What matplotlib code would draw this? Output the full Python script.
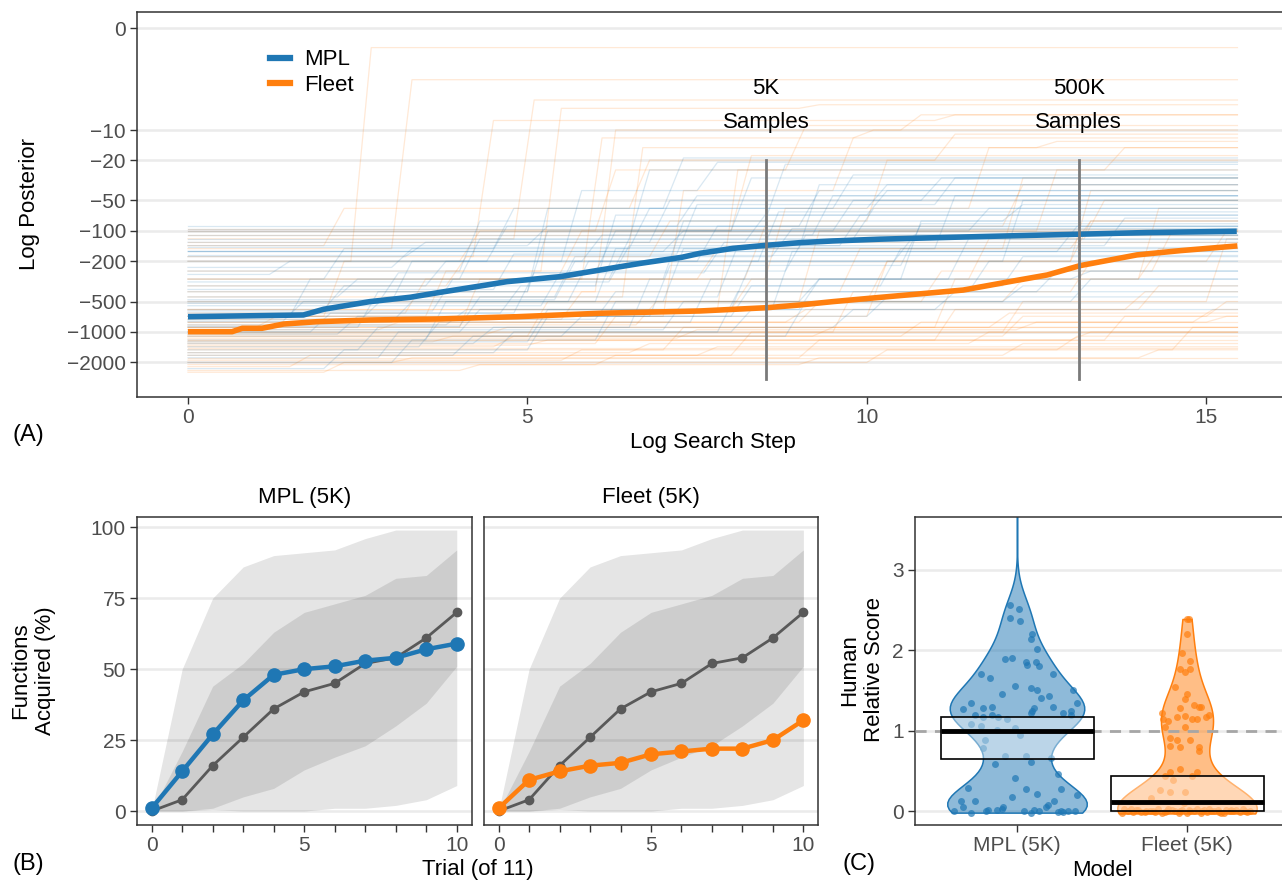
import numpy as np
import matplotlib.pyplot as plt
from matplotlib.colors import to_rgb
from matplotlib.lines import Line2D

plt.rcParams['font.family'] = ['Liberation Sans', 'DejaVu Sans']

BLUE = '#1f77b4'
ORANGE = '#ff7f0e'
TICK_COL = '#4d4d4d'
GRID_COL = '#ebebeb'

# ---------------- (A) search curves ----------------
mpl_x = [0, 1.70, 2.00, 2.68, 3.27, 3.77, 4.40, 4.70, 5.48, 6.07, 6.66, 7.27,
         7.54, 8.03, 8.52, 9.01, 9.50, 10.19, 11.67, 13.14, 14.13, 15.45]
mpl_mean = [-706, -679, -596, -501, -454, -400, -343, -318, -284, -244, -210, -183,
            -167, -149, -139, -131, -126, -121, -114, -108, -104, -101]
fleet_x = [0, 0.65, 0.80, 1.09, 1.41, 1.90, 2.68, 3.67, 4.85, 6.07, 7.54, 8.53,
           9.01, 9.50, 10.19, 11.42, 12.16, 12.66, 13.14, 13.98, 14.62, 15.46]
fleet_mean = [-993, -993, -919, -919, -834, -791, -761, -744, -706, -653, -620, -575,
              -541, -501, -455, -385, -313, -273, -221, -173, -157, -141]

# single runs: starting value, then (log step, new best value)
mpl_runs = [
    (-160, []), (-160, []), (-95, []), (-110, []),
    (-90, []), (-100, []), (-120, []), (-145, []), (-175, []),
    (-300, [(2.0, -150), (4.5, -60), (7.0, -19)]),
    (-500, [(3.0, -200), (5.5, -40), (7.5, -21)]),
    (-700, [(1.5, -300), (4.0, -120), (6.5, -25)]),
    (-900, [(2.5, -400), (5.0, -100), (8.0, -30)]),
    (-1200, [(3.5, -500), (6.0, -150), (9.0, -35)]),
    (-250, [(4.0, -80), (8.5, -22)]),
    (-400, [(5.0, -60), (9.5, -28)]),
    (-600, [(2.0, -350), (6.0, -70), (10.0, -40)]),
    (-800, [(3.0, -500), (7.0, -150), (11.0, -45)]),
    (-1000, [(4.0, -600), (8.0, -200), (12.0, -50)]),
    (-1500, [(2.5, -900), (6.5, -300), (10.5, -80)]),
    (-350, [(3.5, -200), (7.5, -90)]),
    (-450, [(2.2, -300), (6.2, -120), (9.8, -60)]),
    (-550, [(5.2, -250), (8.8, -110)]),
    (-650, [(4.6, -350), (10.2, -150)]),
    (-750, [(6.0, -400), (11.5, -200)]),
    (-850, [(3.8, -600), (9.0, -300), (13.0, -250)]),
    (-950, [(7.0, -500), (12.0, -350)]),
    (-1100, [(5.5, -700), (10.0, -450)]),
    (-1300, [(4.2, -900), (9.5, -600)]),
    (-200, [(5.8, -110), (9.2, -45)]),
    (-180, [(3.2, -130), (8.2, -70)]),
    (-1800, [(2.8, -1000), (7.8, -400), (12.5, -250)]),
    (-130, [(6.8, -50), (10.8, -30)]),
    (-270, [(1.2, -200), (4.4, -90), (7.2, -45)]),
    (-700, [(2.6, -450), (5.4, -180), (8.6, -95)]),
    (-1000, [(1.8, -650), (4.8, -260), (7.6, -130)]),
    (-2000, [(3.0, -1200), (6.0, -500), (9.0, -300)]),
    (-1600, [(4.5, -1000), (8.0, -600), (11.0, -400)]),
    (-140, [(5.0, -90), (9.0, -40)]),
    (-230, [(3.0, -150), (6.5, -60), (10.0, -35)]),
    (-380, [(4.5, -170), (7.2, -55), (11.0, -30)]),
    (-520, [(2.8, -260), (6.0, -100), (9.5, -50)]),
    (-620, [(3.6, -300), (7.0, -80), (12.0, -55)]),
    (-780, [(1.4, -500), (5.6, -200), (8.4, -65)]),
    (-880, [(4.0, -450), (7.8, -140), (13.5, -75)]),
    (-1050, [(2.2, -700), (6.8, -220), (10.5, -85)]),
    (-1250, [(5.0, -600), (8.6, -160), (12.8, -90)]),
    (-1400, [(3.4, -800), (7.4, -300), (11.2, -120)]),
    (-160, [(7.0, -100), (11.5, -60)]),
    (-320, [(6.2, -140), (9.6, -70)]),
    (-480, [(5.4, -200), (10.4, -110)]),
    (-2300, [(2.0, -1500), (5.0, -700), (8.0, -350), (12.0, -180)]),
    (-1700, [(3.9, -1100), (8.8, -500), (13.0, -300)]),
]
fleet_runs = [
    (-200, [(2.4, -0.9)]),
    (-150, [(3.0, -2.9)]),
    (-120, [(4.8, -4.9)]),
    (-100, []), (-110, []), (-1000, []), (-1200, []),
    (-1450, []), (-1800, []), (-800, []), (-900, []), (-130, []), (-95, []),
    (-250, [(5.2, -6), (9.0, -5.5)]),
    (-400, [(6.0, -10), (10.5, -7)]),
    (-700, [(7.0, -40), (9.5, -12)]),
    (-900, [(4.0, -300), (8.5, -60), (11.5, -15)]),
    (-1100, [(5.0, -500), (9.0, -100), (12.5, -25)]),
    (-1300, [(6.0, -700), (10.0, -200), (13.0, -40)]),
    (-1500, [(7.0, -900), (11.0, -300), (14.0, -60)]),
    (-1700, [(8.0, -1000), (12.0, -500), (15.0, -120)]),
    (-2000, [(3.0, -1800), (9.0, -1200), (13.5, -700)]),
    (-2500, [(2.0, -2000), (10.0, -1500), (14.5, -900)]),
    (-800, [(9.0, -500), (12.0, -300), (14.0, -150)]),
    (-600, [(8.0, -300), (11.5, -120), (13.2, -50)]),
    (-500, [(10.0, -200), (13.0, -80)]),
    (-300, [(7.5, -150), (12.0, -30)]),
    (-1400, [(4.5, -1100), (10.5, -800), (14.8, -600)]),
    (-1600, [(6.5, -1300), (11.5, -1000)]),
    (-1900, [(5.5, -1500), (12.8, -1100)]),
    (-2200, [(1.5, -1700), (7.5, -1400)]),
    (-900, [(1.0, -700), (3.5, -250), (5.5, -100), (8.0, -18)]),
    (-700, [(2.0, -200), (4.0, -100), (6.0, -25), (8.8, -9)]),
    (-1000, [(9.5, -400), (13.0, -200), (15.0, -100)]),
    (-1200, [(11.0, -600), (14.0, -350)]),
    (-350, [(3.8, -180), (6.8, -80), (10.0, -20)]),
    (-1100, [(12.0, -700), (15.0, -500)]),
    (-180, [(4.2, -8), (11.0, -7)]),
    (-300, [(5.8, -12), (9.8, -10)]),
    (-450, [(6.4, -15), (12.5, -13)]),
    (-600, [(7.8, -25), (13.5, -15)]),
    (-650, [(3.2, -300), (8.2, -90), (12.0, -35)]),
    (-750, [(5.5, -400), (9.6, -150), (13.0, -80)]),
    (-850, [(6.6, -500), (10.8, -250), (14.2, -100)]),
    (-950, [(2.8, -800), (8.8, -600), (13.8, -400)]),
    (-1050, [(4.4, -900), (11.8, -650)]),
    (-1150, [(7.2, -950), (12.2, -800), (15.0, -700)]),
    (-1250, [(3.6, -1100), (9.2, -900)]),
    (-1350, [(5.0, -1200), (13.0, -1000)]),
    (-2100, [(6.0, -1700), (12.0, -1300)]),
    (-2400, [(4.0, -2100), (9.0, -1800), (14.0, -1500)]),
    (-140, [(2.0, -60), (6.5, -20), (11.0, -11)]),
]
step_max = 15.46
mark_steps = [5000, 500000]
mark_labels = ['5K', '500K']
post_ticks = [0, -10, -20, -50, -100, -200, -500, -1000, -2000]

# ---------------- (B) functions acquired ----------------
trials = list(range(11))
human_acq = [0, 4, 16, 26, 36, 42, 45, 52, 54, 61, 70]
mpl_acq = [1, 14, 27, 39, 48, 50, 51, 53, 54, 57, 59]
fleet_acq = [1, 11, 14, 16, 17, 20, 21, 22, 22, 25, 32]
outer_lo = [0, 0, 0.5, 0, 0, 0, 1, 1, 2, 4, 9]
outer_hi = [0, 50, 75, 86, 90, 91, 92, 96, 99, 99, 99]
inner_lo = [0, 0, 1, 5, 8, 14.5, 19, 23, 30, 38, 51]
inner_hi = [0, 21, 44, 52, 63, 70, 73, 76, 82, 83, 92]

# ---------------- (C) human relative score ----------------
models = ['MPL (5K)', 'Fleet (5K)']
mpl_pts = [(-0.04, 2.56), (0.01, 2.52), (-0.04, 2.40), (0.02, 2.37), (0.09, 2.20), (0.08, 2.14),
           (0.12, 2.02), (-0.07, 1.89), (-0.03, 1.91), (0.05, 1.85), (0.11, 1.86), (0.06, 1.82),
           (0.13, 1.80), (-0.21, 1.71), (-0.16, 1.66), (0.21, 1.70), (-0.01, 1.56), (0.08, 1.53),
           (0.12, 1.51), (-0.09, 1.46), (0.33, 1.50), (0.14, 1.41), (0.19, 1.43), (-0.27, 1.35),
           (0.35, 1.35), (-0.32, 1.27), (-0.20, 1.28), (-0.15, 1.30), (0.10, 1.28), (0.09, 1.25),
           (0.21, 1.30), (-0.25, 1.20), (-0.20, 1.17), (-0.15, 1.20), (-0.11, 1.17), (-0.06, 1.15),
           (0.08, 1.22), (0.27, 1.22), (0.32, 1.20), (0.32, 1.24), (-0.27, 1.08), (-0.21, 1.06),
           (-0.12, 1.01), (-0.01, 1.03), (0.02, 0.95), (-0.19, 0.89), (-0.20, 0.79), (-0.07, 0.69),
           (0.05, 0.68), (0.20, 0.66), (-0.13, 0.58), (0.08, 0.61), (0.24, 0.46), (-0.01, 0.41),
           (-0.29, 0.29), (0.05, 0.27), (0.26, 0.28), (0.12, 0.21), (-0.03, 0.17), (0.35, 0.20),
           (-0.25, 0.13), (-0.33, 0.12), (-0.32, 0.05), (0.22, 0.12), (0.18, 0.08), (0.17, 0.05),
           (-0.08, 0.05), (-0.12, 0.01), (-0.37, 0.00), (-0.27, -0.02), (-0.18, 0.00), (0.04, 0.00),
           (0.08, -0.02), (0.13, 0.00), (0.24, -0.01), (0.27, -0.01), (0.34, 0.00), (-0.09, 0.02),
           (-0.17, 0.01), (0.10, 0.01), (0.26, 0.00), (0.30, 0.00), (0.00, 4.20)]
fleet_pts = [(0.00, 2.39), (0.01, 2.39), (0.00, 2.20), (-0.03, 1.97), (0.02, 1.87), (-0.04, 1.77),
             (-0.01, 1.73), (0.02, 1.77), (-0.07, 1.54), (0.00, 1.46), (-0.01, 1.39), (0.04, 1.32),
             (0.07, 1.30), (-0.04, 1.28), (0.08, 1.29), (-0.15, 1.22), (-0.14, 1.14), (-0.11, 1.12),
             (-0.06, 1.17), (-0.01, 1.18), (0.03, 1.14), (0.06, 1.14), (0.11, 1.17), (0.13, 1.20),
             (-0.13, 1.05), (-0.01, 1.05), (-0.10, 0.91), (-0.06, 0.88), (0.02, 0.88), (-0.10, 0.81),
             (-0.04, 0.80), (0.07, 0.80), (0.07, 0.75), (-0.04, 0.52), (0.06, 0.48), (-0.10, 0.48),
             (0.03, 0.44), (-0.13, 0.44), (-0.08, 0.38), (-0.16, 0.26), (-0.10, 0.24), (-0.01, 0.24),
             (-0.21, 0.16), (-0.02, 0.10), (-0.37, 0.03), (-0.29, 0.01), (-0.22, 0.00), (-0.15, -0.02),
             (-0.09, 0.01), (-0.05, -0.02), (0.02, 0.00), (0.08, -0.02), (0.14, 0.00), (0.20, -0.02),
             (0.25, 0.00), (0.31, -0.01), (0.37, 0.00), (-0.38, -0.03), (-0.32, -0.01), (-0.25, -0.01),
             (-0.12, 0.00), (0.10, 0.01), (0.23, 0.01), (0.33, 0.02), (-0.35, 0.0), (-0.30, 0.01),
             (-0.27, -0.01), (-0.20, 0.0), (-0.17, 0.02), (-0.13, -0.01), (-0.07, 0.0), (-0.03, 0.01),
             (0.00, -0.02), (0.04, 0.0), (0.06, 0.02), (0.12, -0.01), (0.16, 0.0), (0.18, 0.01),
             (0.22, -0.02), (0.27, 0.0), (0.29, 0.01), (0.35, -0.01), (-0.33, 0.02), (-0.24, 0.0),
             (-0.19, -0.01), (-0.11, 0.02), (-0.04, 0.0), (0.01, 0.01), (0.09, 0.0), (0.13, 0.02),
             (0.19, -0.01), (0.26, 0.01), (0.34, 0.0)]
box_q1 = [0.65, 0.0]
box_med = [1.0, 0.11]
box_q3 = [1.17, 0.43]

# ---------------- figure ----------------
W, H = 1282, 881
fig = plt.figure(figsize=(W / 100, H / 100), dpi=100)


def px_box(l, t, r, b):
    return [l / W, 1 - b / H, (r - l) / W, (b - t) / H]


def ftext(x, y, s, **kw):
    kw.setdefault('fontsize', 15)
    kw.setdefault('ha', 'center')
    kw.setdefault('va', 'center')
    fig.text(x / W, 1 - y / H, s, **kw)


def style(ax):
    for sp in ax.spines.values():
        sp.set_color('#333333')
        sp.set_linewidth(1.1)
    ax.tick_params(length=5, width=1, color='#333333', labelcolor=TICK_COL, labelsize=15, pad=3)
    ax.yaxis.grid(True, color=GRID_COL, lw=1.8)
    ax.set_axisbelow(True)


# (A)
ax = fig.add_axes(px_box(137, 11.7, 1289.7, 396.7))
style(ax)
ax.set_yscale('function', functions=(lambda y: np.arcsinh(np.asarray(y) / 2),
                                     lambda z: 2 * np.sinh(np.asarray(z))))
for runs, col in [(fleet_runs, ORANGE), (mpl_runs, BLUE)]:
    for start, jumps in runs:
        xs, ys = [0], [start]
        for xj, vj in jumps:
            xs += [xj, xj + 0.3]
            ys += [ys[-1], vj]
        xs.append(step_max)
        ys.append(ys[-1])
        ax.plot(xs, ys, color=col, lw=0.9, alpha=0.17, zorder=1)
ax.plot(mpl_x, mpl_mean, color=BLUE, lw=4, zorder=4, solid_capstyle='butt')
ax.plot(fleet_x, fleet_mean, color=ORANGE, lw=4, zorder=4, solid_capstyle='butt')
for st, lab in zip(mark_steps, mark_labels):
    ax.plot([np.log(st)] * 2, [-20, -2900], color='#7a7a7a', lw=2, zorder=5)
    ax.text(np.log(st), 0.80, lab, transform=ax.get_xaxis_transform(), ha='center', va='center', fontsize=16)
    ax.text(np.log(st), 0.712, 'Samples', transform=ax.get_xaxis_transform(), ha='center', va='center', fontsize=16)
ax.set_yticks(post_ticks)
ax.set_yticklabels([str(t).replace('-', '\u2212') for t in post_ticks])
ax.set_ylim(-4360, 0.78)
ax.set_xticks([0, 5, 10, 15])
ax.set_xlim(-0.751, 16.23)
handles = [Line2D([], [], color=BLUE, lw=4.5), Line2D([], [], color=ORANGE, lw=4.5)]
ax.legend(handles, ['MPL', 'Fleet'], loc='upper left', bbox_to_anchor=(0.108, 0.925), frameon=False,
          fontsize=16, handlelength=0.9, handletextpad=0.6, labelspacing=0.2, borderaxespad=0)
ftext(30, 204, 'Log Posterior', rotation=90, fontsize=16)
ftext(713, 442, 'Log Search Step', fontsize=16)
ftext(12, 435, '(A)', ha='left', fontsize=17)

# (B)
for (l, r), series, col, title, first in [((137, 471.7), mpl_acq, BLUE, 'MPL (5K)', True),
                                          ((484, 818.3), fleet_acq, ORANGE, 'Fleet (5K)', False)]:
    bx = fig.add_axes(px_box(l, 516.7, r, 825))
    style(bx)
    bx.fill_between(trials, outer_lo, outer_hi, color='black', alpha=0.1, lw=0, zorder=1)
    bx.fill_between(trials, inner_lo, inner_hi, color='black', alpha=0.1, lw=0, zorder=1)
    bx.plot(trials, human_acq, color='#595959', lw=2, marker='o', ms=6, zorder=3)
    bx.plot(trials, series, color=col, lw=3.2, marker='o', ms=9.5, zorder=4)
    bx.set_xlim(-0.48, 10.49)
    bx.set_ylim(-4.9, 103.7)
    bx.set_xticks(trials)
    bx.set_xticklabels(['0', '', '', '', '', '5', '', '', '', '', '10'])
    bx.set_yticks([0, 25, 50, 75, 100])
    if not first:
        bx.tick_params(axis='y', left=False, labelleft=False)
    ftext((l + r) / 2, 497, title, fontsize=16)
ftext(33, 671, 'Functions\nAcquired (%)', rotation=90, fontsize=16, linespacing=1.2)
ftext(478, 870, 'Trial (of 11)', fontsize=16)
ftext(12, 864, '(B)', ha='left', fontsize=17)

# (C)
cx = fig.add_axes(px_box(915, 516.7, 1289, 825))
style(cx)
for pos, pts, col, bw in [(1, mpl_pts, BLUE, 0.3), (2, fleet_pts, ORANGE, 0.42)]:
    parts = cx.violinplot([[v for _, v in pts]], positions=[pos], widths=0.82,
                          showextrema=False, bw_method=bw)
    body = parts['bodies'][0]
    body.set_alpha(None)
    body.set_facecolor((*to_rgb(col), 0.5))
    body.set_edgecolor((*to_rgb(col), 1.0))
    body.set_linewidth(1.1)
    body.set_zorder(2)
cx.axhline(1, color='#a6a6a6', lw=2, ls=(0, (4, 3)), zorder=3)
for pos, pts, col in [(1, mpl_pts, BLUE), (2, fleet_pts, ORANGE)]:
    cx.plot([pos + o for o, _ in pts], [v for _, v in pts], 'o', color=col, alpha=0.7,
            ms=5, mec='none', zorder=4)
for i, pos in enumerate([1, 2]):
    cx.add_patch(plt.Rectangle((pos - 0.45, box_q1[i]), 0.9, box_q3[i] - box_q1[i],
                               facecolor=(1, 1, 1, 0.4), edgecolor='black', lw=1.2, zorder=5))
    cx.plot([pos - 0.45, pos + 0.45], [box_med[i]] * 2, color='black', lw=3.5, zorder=6,
            solid_capstyle='butt')
cx.set_xlim(0.4, 2.6)
cx.set_ylim(-0.174, 3.663)
cx.set_xticks([1, 2])
cx.set_xticklabels(models)
cx.set_yticks([0, 1, 2, 3])
ftext(862, 670, 'Human\nRelative Score', rotation=90, fontsize=16, linespacing=1.2)
ftext(1102, 870, 'Model', fontsize=16)
ftext(842, 864, '(C)', ha='left', fontsize=17)

fig.savefig('out.png', dpi=100)
